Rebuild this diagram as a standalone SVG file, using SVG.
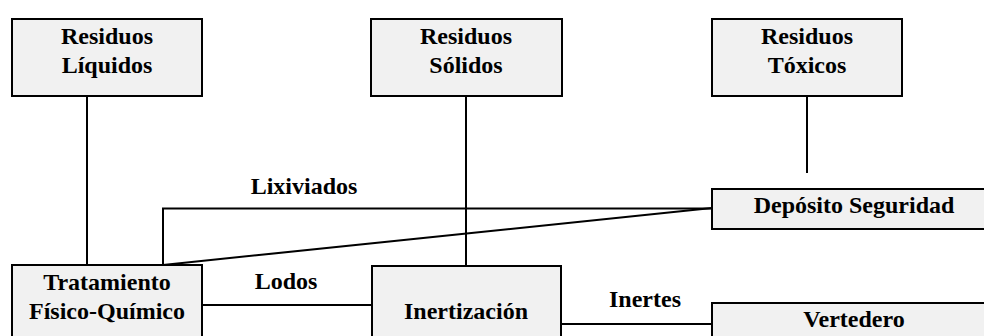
<svg xmlns="http://www.w3.org/2000/svg" width="984" height="336" viewBox="0 0 984 336">
<style>
.box{fill:#f1f1f1;stroke:#000;stroke-width:2}
.t{font-family:"Liberation Serif","Times New Roman",serif;font-weight:bold;font-size:24px;fill:#000;text-anchor:middle}
.c{fill:none;stroke:#000;stroke-width:2}
</style>
<rect width="984" height="336" fill="#fff"/>
<g id="connectors">
<line class="c" x1="87" y1="96" x2="87" y2="265"/>
<line class="c" x1="466" y1="96" x2="466" y2="266"/>
<line class="c" x1="807" y1="96" x2="807" y2="173"/>
<polyline class="c" points="163,265 163,208.5 712,208.5"/>
<line class="c" x1="163" y1="265" x2="712" y2="208"/>
<line class="c" x1="202" y1="305" x2="372" y2="305"/>
<line class="c" x1="561" y1="324" x2="712" y2="324"/>
<text class="t" x="304" y="194">Lixiviados</text>
<text class="t" x="286" y="289">Lodos</text>
<text class="t" x="645" y="307">Inertes</text>
</g>
<g id="residuos-liquidos">
<rect class="box" x="12" y="19" width="190" height="77"/>
<text class="t" x="107" y="44">Residuos</text>
<text class="t" x="107" y="72.5">Líquidos</text>
</g>
<g id="residuos-solidos">
<rect class="box" x="371" y="19" width="191" height="77"/>
<text class="t" x="466" y="44">Residuos</text>
<text class="t" x="466" y="72.5">Sólidos</text>
</g>
<g id="residuos-toxicos">
<rect class="box" x="712" y="19" width="190" height="77"/>
<text class="t" x="807" y="44">Residuos</text>
<text class="t" x="807" y="72.5">Tóxicos</text>
</g>
<g id="deposito-seguridad">
<rect class="box" x="712" y="189" width="284" height="40"/>
<text class="t" x="854" y="213">Depósito Seguridad</text>
</g>
<g id="tratamiento">
<rect class="box" x="12" y="265" width="190" height="90"/>
<text class="t" x="107" y="290">Tratamiento</text>
<text class="t" x="107" y="318.5">Físico-Químico</text>
</g>
<g id="inertizacion">
<rect class="box" x="372" y="266" width="189" height="90"/>
<text class="t" x="466" y="318.5">Inertización</text>
</g>
<g id="vertedero">
<rect class="box" x="712" y="303" width="284" height="50"/>
<text class="t" x="854" y="326.5">Vertedero</text>
</g>
</svg>
